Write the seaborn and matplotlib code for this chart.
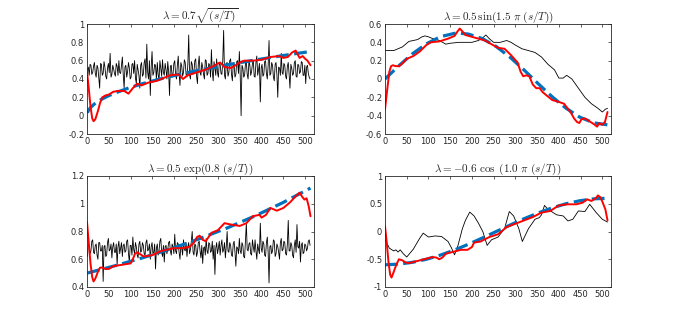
import numpy as np
import matplotlib
matplotlib.use('Agg')
import matplotlib.pyplot as plt
import seaborn as sns

sns.set_style('white')
plt.rcParams['mathtext.fontset'] = 'cm'
plt.rcParams['axes.unicode_minus'] = False
plt.rcParams['font.family'] = ['DejaVu Sans']

# ---------------- data ----------------
# noisy black series (left panels), one value every 2 samples
noise_sqrt = [
    0.50, 0.53, 0.44, 0.56, 0.55, 0.45, 0.47, 0.54, 0.58, 0.46, 0.42, 0.55, 0.52, 0.41, 0.30, 0.57,
    0.56, 0.44, 0.46, 0.59, 0.53, 0.43, 0.40, 0.52, 0.57, 0.47, 0.68, 0.42, 0.45, 0.55, 0.51, 0.46,
    0.43, 0.57, 0.54, 0.44, 0.60, 0.47, 0.46, 0.55, 0.64, 0.45, 0.30, 0.53, 0.55, 0.42, 0.48, 0.58,
    0.52, 0.40, 0.42, 0.56, 0.57, 0.46, 0.60, 0.41, 0.35, 0.56, 0.50, 0.44, 0.30, 0.55, 0.58, 0.43,
    0.45, 0.58, 0.62, 0.41, 0.78, 0.47, 0.40, 0.60, 0.22, 0.53, 0.70, 0.44, 0.47, 0.56, 0.55, 0.39,
    0.58, 0.45, 0.38, 0.60, 0.52, 0.43, 0.61, 0.47, 0.44, 0.57, 0.50, 0.40, 0.59, 0.48, 0.22, 0.54,
    0.55, 0.42, 0.45, 0.57, 0.60, 0.44, 0.40, 0.55, 0.65, 0.46, 0.33, 0.58, 0.54, 0.43, 0.47, 0.61,
    0.58, 0.45, 0.42, 0.56, 0.88, 0.44, 0.40, 0.59, 0.56, 0.45, 0.48, 0.60, 0.62, 0.43, 0.35, 0.56,
    0.65, 0.47, 0.44, 0.58, 0.53, 0.45, 0.40, 0.61, 0.60, 0.44, 0.46, 0.57, 0.55, 0.42, 0.72, 0.48,
    0.38, 0.59, 0.52, 0.44, 0.62, 0.47, 0.42, 0.58, 0.56, 0.46, 0.45, 0.60, 0.93, 0.44, 0.40, 0.57,
    0.58, 0.43, 0.47, 0.60, 0.62, 0.45, 0.38, 0.56, 0.55, 0.42, 0.45, 0.59, 0.60, 0.46, 0.70, 0.44,
    0.00, 0.55, 0.52, 0.42, 0.44, 0.57, 0.58, 0.45, 0.40, 0.60, 0.55, 0.44, 0.48, 0.57, 0.60, 0.43,
    0.42, 0.58, 0.65, 0.44, 0.50, 0.57, 0.15, 0.52, 0.56, 0.43, 0.45, 0.59, 0.60, 0.46, 0.40, 0.55,
    0.82, 0.44, 0.46, 0.58, 0.55, 0.42, 0.38, 0.56, 0.58, 0.45, 0.20, 0.53, 0.52, 0.44, 0.68, 0.47,
    0.45, 0.57, 0.55, 0.43, 0.40, 0.54, 0.58, 0.45, 0.30, 0.56, 0.52, 0.44, 0.46, 0.58, 0.60, 0.43,
    0.42, 0.56, 0.55, 0.46, 0.48, 0.59, 0.58, 0.44, 0.44, 0.55, 0.35, 0.53, 0.55, 0.46, 0.42, 0.40,
]
noise_exp = [
    0.62, 0.71, 0.70, 0.64, 0.66, 0.73, 0.74, 0.65, 0.64, 0.70, 0.71, 0.63, 0.60, 0.72, 0.72, 0.66,
    0.66, 0.70, 0.44, 0.69, 0.70, 0.62, 0.63, 0.72, 0.75, 0.66, 0.67, 0.71, 0.61, 0.69, 0.72, 0.65,
    0.65, 0.71, 0.56, 0.69, 0.73, 0.64, 0.68, 0.72, 0.62, 0.70, 0.71, 0.65, 0.66, 0.73, 0.74, 0.64,
    0.58, 0.70, 0.70, 0.63, 0.76, 0.67, 0.64, 0.72, 0.69, 0.63, 0.61, 0.71, 0.73, 0.65, 0.66, 0.72,
    0.70, 0.64, 0.63, 0.72, 0.74, 0.66, 0.67, 0.71, 0.60, 0.69, 0.72, 0.64, 0.65, 0.71, 0.53, 0.68,
    0.71, 0.63, 0.66, 0.73, 0.75, 0.65, 0.62, 0.70, 0.58, 0.69, 0.70, 0.64, 0.67, 0.72, 0.73, 0.66,
    0.63, 0.71, 0.69, 0.64, 0.78, 0.66, 0.64, 0.72, 0.71, 0.65, 0.60, 0.70, 0.68, 0.63, 0.74, 0.67,
    0.66, 0.72, 0.62, 0.69, 0.72, 0.64, 0.67, 0.73, 0.80, 0.65, 0.63, 0.71, 0.70, 0.62, 0.65, 0.72,
    0.73, 0.66, 0.61, 0.70, 0.57, 0.68, 0.69, 0.63, 0.75, 0.66, 0.64, 0.72, 0.71, 0.65, 0.66, 0.73,
    0.60, 0.70, 0.49, 0.68, 0.72, 0.64, 0.68, 0.73, 0.63, 0.70, 0.74, 0.65, 0.67, 0.72, 0.61, 0.69,
    0.80, 0.66, 0.65, 0.72, 0.70, 0.63, 0.62, 0.71, 0.73, 0.65, 0.55, 0.69, 0.68, 0.64, 0.75, 0.66,
    0.64, 0.72, 0.70, 0.62, 0.61, 0.73, 0.86, 0.67, 0.66, 0.71, 0.72, 0.64, 0.63, 0.74, 0.69, 0.65,
    0.74, 0.66, 0.60, 0.71, 0.67, 0.64, 0.86, 0.68, 0.65, 0.73, 0.71, 0.63, 0.62, 0.72, 0.76, 0.65,
    0.43, 0.69, 0.70, 0.64, 0.66, 0.74, 0.73, 0.62, 0.64, 0.71, 0.69, 0.65, 0.60, 0.72, 0.75, 0.66,
    0.67, 0.73, 0.72, 0.64, 0.63, 0.71, 0.88, 0.66, 0.66, 0.72, 0.70, 0.63, 0.61, 0.70, 0.74, 0.65,
    0.85, 0.69, 0.68, 0.73, 0.58, 0.70, 0.72, 0.64, 0.65, 0.71, 0.70, 0.66, 0.68, 0.73, 0.74, 0.70,
]

# true lambda (blue dashed)
true_sqrt_s = [1, 2, 4, 8, 16, 32, 48, 64, 96, 128, 160, 192, 224, 256, 288, 320, 352, 384, 416, 448, 480, 512]
true_sqrt_v = [0.031, 0.044, 0.062, 0.088, 0.124, 0.175, 0.214, 0.247, 0.303, 0.350, 0.391, 0.429,
               0.463, 0.495, 0.525, 0.553, 0.580, 0.606, 0.631, 0.655, 0.678, 0.700]
true_sin_s = [0, 32, 64, 96, 128, 160, 170, 192, 224, 256, 288, 320, 352, 384, 416, 448, 480, 512]
true_sin_v = [0.0, 0.145, 0.278, 0.386, 0.462, 0.498, 0.500, 0.490, 0.441, 0.354, 0.236, 0.098,
              -0.049, -0.191, -0.317, -0.416, -0.478, -0.500]
true_exp_s = [0, 64, 128, 192, 256, 320, 384, 448, 512]
true_exp_v = [0.500, 0.553, 0.611, 0.675, 0.746, 0.824, 0.911, 1.007, 1.113]
true_cos_s = [0, 32, 64, 96, 128, 160, 192, 224, 256, 288, 320, 352, 384, 416, 448, 480, 512]
true_cos_v = [-0.600, -0.588, -0.554, -0.499, -0.424, -0.333, -0.230, -0.117, 0.0, 0.117, 0.230,
              0.333, 0.424, 0.499, 0.554, 0.588, 0.600]

# red estimates
est_sqrt_s = [0, 4, 8, 12, 15, 19, 25, 30, 35, 42, 50, 60, 70, 85, 95, 105, 115, 125, 140, 160, 170,
              190, 210, 220, 230, 250, 270, 290, 300, 305, 315, 330, 350, 360, 380, 400, 420, 440,
              450, 460, 470, 478, 487, 494, 500, 505, 512]
est_sqrt_v = [0.48, 0.30, 0.10, -0.03, -0.06, -0.04, 0.05, 0.14, 0.20, 0.22, 0.23, 0.26, 0.27, 0.27,
              0.24, 0.30, 0.35, 0.33, 0.36, 0.38, 0.40, 0.44, 0.45, 0.40, 0.44, 0.47, 0.50, 0.54,
              0.57, 0.58, 0.53, 0.52, 0.58, 0.60, 0.60, 0.61, 0.64, 0.65, 0.63, 0.64, 0.69, 0.71,
              0.63, 0.65, 0.62, 0.60, 0.55]
est_sin_s = [0, 5, 10, 14, 18, 25, 32, 40, 50, 65, 80, 95, 105, 125, 145, 160, 167, 172, 178, 185,
             200, 215, 230, 245, 260, 275, 290, 305, 312, 318, 325, 332, 340, 348, 356, 362, 372,
             385, 400, 412, 420, 428, 435, 442, 447, 452, 460, 470, 480, 488, 493, 500, 506, 512]
est_sin_v = [-0.33, -0.12, 0.08, 0.14, 0.15, 0.14, 0.14, 0.17, 0.22, 0.25, 0.30, 0.37, 0.40, 0.41,
             0.44, 0.47, 0.52, 0.55, 0.52, 0.48, 0.46, 0.44, 0.42, 0.38, 0.34, 0.33, 0.26, 0.18,
             0.08, 0.03, 0.04, 0.03, -0.06, -0.10, -0.10, -0.14, -0.18, -0.23, -0.25, -0.27, -0.32,
             -0.37, -0.43, -0.47, -0.48, -0.44, -0.43, -0.46, -0.49, -0.52, -0.48, -0.50, -0.47, -0.36]
est_exp_s = [0, 4, 8, 12, 15, 19, 25, 30, 35, 42, 50, 60, 80, 100, 105, 110, 115, 120, 130, 150,
             170, 200, 220, 235, 245, 252, 258, 265, 272, 285, 300, 315, 330, 350, 365, 380, 395,
             400, 410, 420, 435, 450, 465, 480, 487, 493, 498, 503, 508, 512]
est_exp_v = [0.87, 0.72, 0.57, 0.47, 0.44, 0.46, 0.51, 0.54, 0.54, 0.53, 0.53, 0.55, 0.56, 0.57,
             0.60, 0.64, 0.65, 0.64, 0.62, 0.63, 0.66, 0.68, 0.68, 0.69, 0.72, 0.76, 0.77, 0.74,
             0.73, 0.79, 0.81, 0.86, 0.85, 0.84, 0.86, 0.91, 0.92, 0.90, 0.92, 0.97, 0.95, 0.97,
             1.01, 1.06, 1.08, 1.05, 1.03, 1.04, 0.98, 0.91]
est_cos_s = [0, 4, 8, 12, 15, 19, 25, 32, 40, 48, 55, 70, 90, 110, 118, 125, 132, 140, 160, 175,
             190, 200, 205, 220, 240, 260, 280, 300, 320, 340, 360, 380, 400, 420, 440, 455, 465,
             475, 485, 490, 495, 500, 507, 512]
est_cos_v = [0.10, -0.20, -0.55, -0.78, -0.83, -0.75, -0.62, -0.50, -0.52, -0.56, -0.57, -0.54,
             -0.50, -0.46, -0.47, -0.50, -0.47, -0.40, -0.36, -0.33, -0.33, -0.28, -0.20, -0.18,
             -0.10, -0.05, 0.08, 0.14, 0.20, 0.26, 0.34, 0.37, 0.47, 0.49, 0.49, 0.52, 0.58, 0.55,
             0.60, 0.65, 0.62, 0.54, 0.40, 0.20]

# smooth black series (right panels)
obs_sin_s = [0, 10, 20, 30, 40, 50, 55, 65, 75, 85, 92, 100, 110, 125, 140, 150, 170, 200, 215, 225,
             232, 240, 250, 265, 280, 290, 300, 315, 330, 345, 360, 375, 390, 400, 410, 418, 430,
             445, 460, 475, 490, 500, 507, 512]
obs_sin_v = [0.31, 0.31, 0.31, 0.33, 0.35, 0.39, 0.41, 0.42, 0.43, 0.46, 0.47, 0.46, 0.44, 0.42,
             0.38, 0.39, 0.40, 0.40, 0.42, 0.45, 0.48, 0.44, 0.40, 0.40, 0.42, 0.40, 0.37, 0.33,
             0.31, 0.29, 0.24, 0.16, 0.10, 0.01, 0.01, 0.04, 0.00, -0.10, -0.20, -0.27, -0.32,
             -0.36, -0.33, -0.32]
obs_cos_s = [0, 5, 10, 20, 25, 30, 35, 42, 50, 65, 80, 88, 100, 115, 130, 145, 152, 160, 168, 178,
             185, 195, 205, 215, 225, 235, 245, 260, 275, 286, 296, 308, 316, 330, 345, 355, 360,
             367, 375, 385, 395, 410, 421, 432, 445, 460, 471, 485, 500, 512]
obs_cos_v = [-0.15, -0.22, -0.30, -0.35, -0.33, -0.37, -0.33, -0.40, -0.46, -0.32, -0.12, -0.03,
             -0.10, -0.08, -0.09, -0.18, -0.28, -0.42, -0.25, 0.05, 0.20, 0.35, 0.28, 0.15, 0.00,
             -0.25, -0.15, -0.10, 0.05, 0.36, 0.28, 0.05, -0.18, 0.05, 0.22, 0.25, 0.30, 0.47,
             0.40, 0.35, 0.30, 0.28, 0.19, 0.22, 0.37, 0.36, 0.49, 0.35, 0.22, 0.17]

titles = [r'$\lambda = 0.7\sqrt{(s/T)}$',
          r'$\lambda = 0.5\,\sin(1.5\ \pi\ (s/T))$',
          r'$\lambda = 0.5\ \exp(0.8\ (s/T))$',
          r'$\lambda = -0.6\ \cos\ (1.0\ \pi\ (s/T))$']
yticks = [np.arange(-0.2, 1.01, 0.2), np.arange(-0.6, 0.61, 0.2),
          np.arange(0.4, 1.21, 0.2), np.arange(-1, 1.01, 0.5)]
ylims = [(-0.2, 1), (-0.6, 0.6), (0.4, 1.2), (-1, 1)]

noise_s = np.arange(1, 512, 2)
panels = [
    (noise_s, noise_sqrt, true_sqrt_s, true_sqrt_v, est_sqrt_s, est_sqrt_v),
    (obs_sin_s, obs_sin_v, true_sin_s, true_sin_v, est_sin_s, est_sin_v),
    (noise_s, noise_exp, true_exp_s, true_exp_v, est_exp_s, est_exp_v),
    (obs_cos_s, obs_cos_v, true_cos_s, true_cos_v, est_cos_s, est_cos_v),
]

# ---------------- figure ----------------
fig = plt.figure(figsize=(6.76, 3.22), dpi=100)
rects = [(87 / 676, 1 - 134 / 322, 227 / 676, 110 / 322),
         (385 / 676, 1 - 134 / 322, 226 / 676, 110 / 322),
         (87 / 676, 1 - 287 / 322, 227 / 676, 111 / 322),
         (385 / 676, 1 - 287 / 322, 226 / 676, 111 / 322)]
axis_col = (0.15, 0.15, 0.15)
blue = (0, 0.447, 0.741)

for i, (rect, p) in enumerate(zip(rects, panels)):
    ax = fig.add_axes(rect)
    bx, by, tx, ty, ex, ey = p
    sns.lineplot(x=bx, y=by, ax=ax, color='black', linewidth=0.6, estimator=None)
    sns.lineplot(x=tx, y=ty, ax=ax, color=blue, linewidth=2.3, estimator=None)
    ax.lines[-1].set_dashes((4, 1.7))
    sns.lineplot(x=ex, y=ey, ax=ax, color='red', linewidth=1.4, estimator=None)
    ax.set_xlim(0, 520)
    ax.set_ylim(*ylims[i])
    ax.set_xticks(np.arange(0, 501, 50))
    ax.set_yticks(yticks[i])
    ax.set_yticklabels(['%g' % round(v, 2) for v in yticks[i]])
    ax.set_xlabel('')
    ax.set_ylabel('')
    ax.tick_params(direction='in', length=2.5, width=0.5, labelsize=6, colors=axis_col,
                   top=True, right=True, pad=2)
    for sp in ax.spines.values():
        sp.set_color(axis_col)
        sp.set_linewidth(0.6)
        sp.set_visible(True)
    ax.set_title(titles[i], fontsize=8, pad=3)

fig.savefig('out.png', dpi=100, facecolor='white')
